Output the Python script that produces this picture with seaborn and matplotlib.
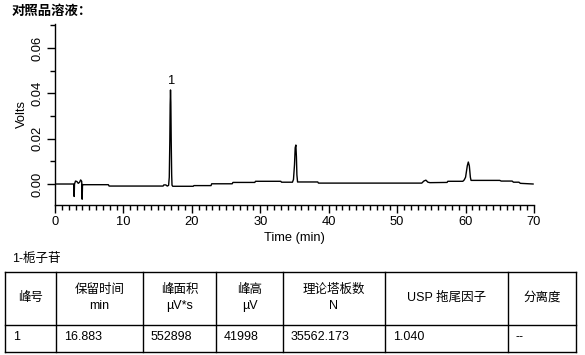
import numpy as np
import pandas as pd
import matplotlib
matplotlib.use("Agg")
import matplotlib.pyplot as plt
import seaborn as sns
from matplotlib.ticker import MultipleLocator, FormatStrFormatter

# ---------------- data ----------------
time_min = [0.0, 2.75, 2.8, 2.85, 3.0, 3.2, 3.4, 3.6, 3.75, 3.9, 3.97, 4.02, 4.1, 7.8, 7.9,
            15.6, 15.8, 15.9, 16.2, 16.4, 16.6, 16.7, 16.78, 16.83, 16.88, 16.93, 16.98, 17.05, 17.1,
            17.2, 20.2, 20.3, 22.8, 22.9, 25.9, 26.0, 29.2, 29.3, 33.0, 33.1, 34.7, 34.85, 35.0,
            35.1, 35.2, 35.28, 35.35, 35.45, 38.4, 38.5, 53.6, 53.9, 54.2, 54.5, 54.8, 57.3, 57.4,
            59.6, 59.8, 60.0, 60.25, 60.4, 60.55, 60.7, 60.8, 65.0, 65.2, 66.8, 67.0, 67.8, 68.0,
            69.9]
volts = [0.0, 0.0, -0.0055, 0.0, 0.0013, 0.0011, 0.0003, 0.0008, 0.0018, 0.0012, -0.0067, -0.0002,
         -0.0003, -0.0003, -0.0009,
         -0.0009, -0.0009, -0.0004, -0.0004, -0.0009, -0.0006, 0.003, 0.019, 0.035, 0.0415, 0.036,
         0.02, 0.004, -0.0005,
         -0.001, -0.001, -0.0007, -0.0007, 0.0001, 0.0001, 0.0007, 0.0007, 0.0012, 0.0012, 0.0008,
         0.0008, 0.002, 0.0085,
         0.016, 0.0172, 0.012, 0.004, 0.0009, 0.0009, 0.0004, 0.0004, 0.0013, 0.0017, 0.0008,
         0.0006, 0.0007, 0.0012,
         0.0012, 0.0018, 0.003, 0.008, 0.0097, 0.008, 0.003, 0.0016, 0.0016, 0.0013, 0.0013,
         0.0008, 0.0008, 0.0003,
         0.0]

peak_label = "1"
peak_time = 16.88
peak_height = 0.0415

x_ticks = [0, 10, 20, 30, 40, 50, 60, 70]
y_ticks = [0.00, 0.02, 0.04, 0.06]

title = "对照品溶液："
compound = "1-栀子苷"
table_header = ["峰号", "保留时间\nmin", "峰面积\nµV*s", "峰高\nµV", "理论塔板数\nN",
                "USP 拖尾因子", "分离度"]
table_row = ["1", "16.883", "552898", "41998", "35562.173", "1.040", "--"]

# ---------------- style ----------------
sns.set_theme(style="ticks")
FAM = ["Liberation Sans", "Noto Sans CJK SC", "DejaVu Sans"]
plt.rcParams["font.family"] = FAM
plt.rcParams["axes.unicode_minus"] = False

FS = 9.3
W, H = 585, 355
fig = plt.figure(figsize=(W / 100, H / 100), dpi=100)

# chart axes (pixel geometry)
L, R, T, B = 55, 534, 24, 205
ax = fig.add_axes([L / W, 1 - B / H, (R - L) / W, (B - T) / H])
df = pd.DataFrame({"Time (min)": time_min, "Volts": volts})
sns.lineplot(data=df, x="Time (min)", y="Volts", ax=ax, sort=False, estimator=None,
             color="black", linewidth=1.0)

ax.set_xlim(0, 70)
ax.set_ylim(-0.00926, 0.0706)
ax.set_xticks(x_ticks)
ax.set_yticks(y_ticks)
ax.xaxis.set_minor_locator(MultipleLocator(1))
ax.yaxis.set_minor_locator(MultipleLocator(0.01))
ax.yaxis.set_major_formatter(FormatStrFormatter("%.2f"))
for s in ["top", "right"]:
    ax.spines[s].set_visible(False)
for s in ["left", "bottom"]:
    ax.spines[s].set_linewidth(1.0)
    ax.spines[s].set_color("black")
ax.tick_params(axis="both", which="major", length=6, width=1, color="black",
               labelsize=FS, labelcolor="black", pad=2)
ax.tick_params(axis="both", which="minor", length=3.5, width=1, color="black")
ax.tick_params(axis="y", labelrotation=90)
for lab in ax.get_yticklabels():
    lab.set_va("center")
ax.set_xlabel("Time (min)", fontsize=FS, color="black", labelpad=3)
ax.set_ylabel("Volts", fontsize=FS, color="black", labelpad=3)
ax.grid(False)

ax.annotate(peak_label, xy=(peak_time, peak_height), xytext=(1, 2),
            textcoords="offset points", ha="center", va="bottom", fontsize=FS,
            color="black")

# overlay axes in pixel coordinates for title and table
ov = fig.add_axes([0, 0, 1, 1], zorder=-1)
ov.set_xlim(0, W)
ov.set_ylim(H, 0)
ov.axis("off")

ov.text(12, 12, title, fontsize=9.6, fontweight="bold", ha="left", va="center",
        family=FAM, color="black")
ov.text(12, 259, compound, fontsize=9, ha="left", va="center", family=FAM, color="black")

col_edges = [5, 56, 143, 216, 283, 385, 508, 576]
row_edges = [271.5, 325, 351.5]
for yv in row_edges:
    ov.plot([col_edges[0], col_edges[-1]], [yv, yv], color="black", lw=1.0,
            solid_capstyle="projecting")
for xv in col_edges:
    ov.plot([xv, xv], [row_edges[0], row_edges[-1]], color="black", lw=1.0,
            solid_capstyle="projecting")

for i, txt in enumerate(table_header):
    cx = (col_edges[i] + col_edges[i + 1]) / 2
    ov.text(cx, 298, txt, fontsize=9, ha="center", va="center", family=FAM,
            color="black", linespacing=1.5, multialignment="center")
for i, txt in enumerate(table_row):
    ov.text(col_edges[i] + 8, 337, txt, fontsize=9, ha="left", va="center", family=FAM,
            color="black")

fig.savefig("out.png", dpi=100)
